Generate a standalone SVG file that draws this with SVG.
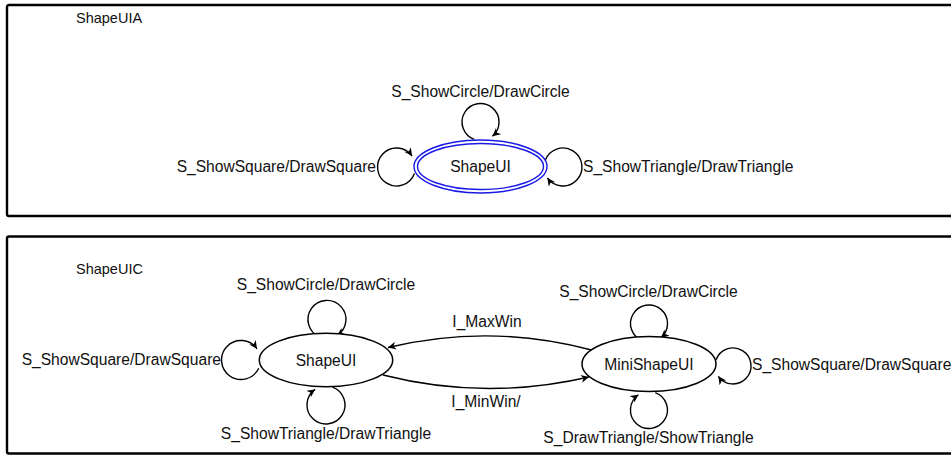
<svg xmlns="http://www.w3.org/2000/svg" width="951" height="456" viewBox="0 0 951 456">
<style>
text{font-family:"Liberation Sans",Arial,sans-serif;font-size:15.6px;fill:#111}
.title{font-size:14.5px}
.box{fill:none;stroke:#000;stroke-width:2.4}
.st{fill:#fff;stroke:#000;stroke-width:1.5}
.sa{fill:#fff;stroke:#1a1ae6;stroke-width:1.4}
.c{fill:none;stroke:#000;stroke-width:1.4}
</style>
<defs>
<marker id="ah" viewBox="0 0 10 10" refX="10" refY="5" markerUnits="userSpaceOnUse" markerWidth="10" markerHeight="8" orient="auto">
<path d="M0,0 L10,5 L0,10 L3,5 z" fill="#000"/>
</marker>
</defs>
<rect width="951" height="456" fill="#fff"/>
<g id="ShapeUIA">
<rect class="box" x="7" y="5" width="960" height="211" rx="2"/>
<text class="title" x="76" y="23">ShapeUIA</text>
</g>
<g id="ShapeUIC">
<rect class="box" x="7" y="236.5" width="960" height="217" rx="2"/>
<text class="title" x="76" y="274">ShapeUIC</text>
</g>
<g id="connectors">
<path class="c" d="M474.2,139.4 A18.5,18.5 0 1 1 492.4,136.2" marker-end="url(#ah)"/>
<path class="c" d="M414.4,173.5 A19,19 0 1 1 412.1,156.1" marker-end="url(#ah)"/>
<path class="c" d="M545.1,160.5 A19,19 0 1 1 547.4,177.9" marker-end="url(#ah)"/>
<path class="c" d="M319.5,336.9 A19,19 0 1 1 336.9,335.6" marker-end="url(#ah)"/>
<path class="c" d="M258.7,368.2 A19.5,19.5 0 1 1 257,348.8" marker-end="url(#ah)"/>
<path class="c" d="M332.5,387.1 A19,19 0 1 1 315.1,389.4" marker-end="url(#ah)"/>
<path class="c" d="M642.7,340.9 A18.5,18.5 0 1 1 660.9,337.7" marker-end="url(#ah)"/>
<path class="c" d="M716.1,359.8 A18,18 0 1 1 718.3,376.3" marker-end="url(#ah)"/>
<path class="c" d="M655.3,392.6 A18.5,18.5 0 1 1 638.4,394.8" marker-end="url(#ah)"/>
<path class="c" d="M591.5,350 Q490,323 388,347.5" marker-end="url(#ah)"/>
<path class="c" d="M383,375 Q485,401 589,377" marker-end="url(#ah)"/>
<text x="480.5" y="97" text-anchor="middle">S_ShowCircle/DrawCircle</text>
<text x="376" y="172" text-anchor="end">S_ShowSquare/DrawSquare</text>
<text x="583" y="172">S_ShowTriangle/DrawTriangle</text>
<text x="326" y="290" text-anchor="middle">S_ShowCircle/DrawCircle</text>
<text x="221" y="365" text-anchor="end">S_ShowSquare/DrawSquare</text>
<text x="326" y="439" text-anchor="middle">S_ShowTriangle/DrawTriangle</text>
<text x="487" y="327" text-anchor="middle">I_MaxWin</text>
<text x="486" y="407" text-anchor="middle">I_MinWin/</text>
<text x="648.5" y="297" text-anchor="middle">S_ShowCircle/DrawCircle</text>
<text x="752" y="370">S_ShowSquare/DrawSquare</text>
<text x="648.5" y="443" text-anchor="middle">S_DrawTriangle/ShowTriangle</text>
</g>
<g id="node-ShapeUI-A">
<ellipse class="sa" cx="480.5" cy="166.5" rx="66.5" ry="26.5"/>
<ellipse class="sa" cx="480.5" cy="166.5" rx="63" ry="23"/>
<text x="480.5" y="172" text-anchor="middle">ShapeUI</text>
</g>
<g id="node-ShapeUI-C">
<ellipse class="st" cx="326" cy="360" rx="66.7" ry="26.7"/>
<text x="326" y="365.5" text-anchor="middle">ShapeUI</text>
</g>
<g id="node-MiniShapeUI">
<ellipse class="st" cx="649" cy="364" rx="67" ry="27.5"/>
<text x="649" y="369.5" text-anchor="middle">MiniShapeUI</text>
</g>
</svg>
